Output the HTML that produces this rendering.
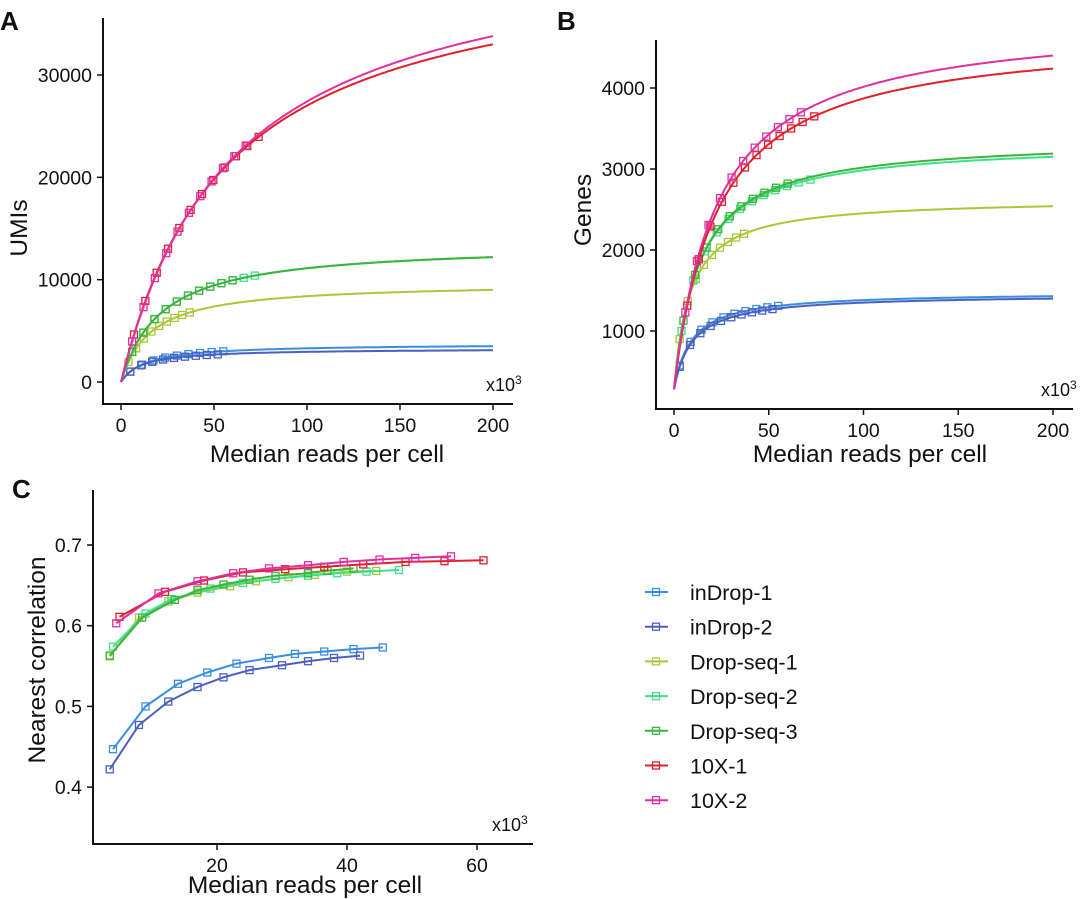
<!DOCTYPE html>
<html><head><meta charset="utf-8"><style>
html,body{margin:0;padding:0;background:#fff;width:1080px;height:899px;overflow:hidden}
svg{display:block}
text{font-family:"Liberation Sans",Arial,sans-serif;fill:#111}
</style></head><body>
<svg id="s" width="1080" height="899" xmlns="http://www.w3.org/2000/svg"></svg>
<script>
const S=document.getElementById('s');let h='';
const C={i1:'#3a8ee0',i2:'#4a5fc0',d1:'#a8c83a',d2:'#3ee08a',d3:'#3cb43c',x1:'#e0202a',x2:'#e030a0'};
function T(x,y,t,sz,anc,ex){h+=`<text x="${x}" y="${y}" font-size="${sz}" text-anchor="${anc||'middle'}" ${ex||''}>${t}</text>`;}
function L(x1,y1,x2,y2,w){h+=`<line x1="${x1}" y1="${y1}" x2="${x2}" y2="${y2}" stroke="#111" stroke-width="${w||2}"/>`;}
function sq(x,y,c){h+=`<rect x="${x-3.5}" y="${y-3.5}" width="7" height="7" fill="none" stroke="${c}" stroke-width="1.3"/>`;}
function panel(X,Y,series,c0){
 for(const s of series){let p='';for(let x=0;x<=200;x+=1){const v=c0+s.a*x/(s.b+x);p+=(x?'L':'M')+X(x).toFixed(1)+','+Y(v).toFixed(1);}
 h+=`<path d="${p}" fill="none" stroke="${s.c}" stroke-width="2"/>`;
 for(let x=s.s;x<=s.e+0.1;x+=(s.e-s.s)/(s.n-1)){sq(X(x),Y(c0+s.a*x/(s.b+x)),s.c);}}
}
const TS=19.5, AS=24.5;
// Panel A
{const X=x=>121+x*1.86,Y=v=>382-v*0.010233;
 L(103,18,103,405);L(102,404,513,404);
 [0,50,100,150,200].forEach(v=>{L(X(v),404,X(v),410,1.5);T(X(v),432,v,TS);});
 [0,10000,20000,30000].forEach(v=>{L(97,Y(v),103,Y(v),1.5);T(92,Y(v)+7,v,TS,'end');});
 panel(X,Y,[
 {a:3736,b:13.5,c:C.i1,s:5,e:55,n:9},{a:3270,b:11,c:C.i2,s:5,e:52,n:9},
 {a:9713,b:15.85,c:C.d1,s:4,e:37,n:9},{a:13518,b:21.6,c:C.d2,s:6,e:72,n:12},{a:13518,b:21.6,c:C.d3,s:6,e:60,n:10},
 {a:42405,b:57,c:C.x1,s:7,e:74,n:12},{a:44075,b:60.8,c:C.x2,s:6,e:67,n:11}],0);
 T(486,391,'x10<tspan font-size="12" dy="-7">3</tspan>',18,'start');
 T(327,462,'Median reads per cell',AS);
 T(27,228,'UMIs',AS,'middle','transform="rotate(-90 27 228)"');
 T(0,30,'A',26,'start','font-weight="bold"');}
// Panel B
{const X=x=>674+x*1.895,Y=v=>331-(v-1000)*0.081;
 L(656,40,656,410);L(655,409,1073,409);
 [0,50,100,150,200].forEach(v=>{L(X(v),409,X(v),415,1.5);T(X(v),437,v,TS);});
 [1000,2000,3000,4000].forEach(v=>{L(650,Y(v),656,Y(v),1.5);T(645,Y(v)+7,v,TS,'end');});
 panel(X,Y,[
 {a:1203,b:9.25,c:C.i1,s:3,e:55,n:10},{a:1174,b:9.66,c:C.i2,s:3,e:52,n:10},
 {a:2355,b:8.4,c:C.d1,s:3,e:37,n:9},{a:3057,b:13,c:C.d2,s:4,e:72,n:12},{a:3103,b:13.3,c:C.d3,s:5,e:60,n:10},
 {a:4413,b:22.9,c:C.x1,s:7,e:74,n:12},{a:4594,b:23,c:C.x2,s:6,e:67,n:11}],280);
 T(1041,396,'x10<tspan font-size="12" dy="-7">3</tspan>',18,'start');
 T(870,462,'Median reads per cell',AS);
 T(591,210,'Genes',AS,'middle','transform="rotate(-90 591 210)"');
 T(557,30,'B',26,'start','font-weight="bold"');}
// Panel C
{const X=x=>87+x*6.5,Y=v=>545-(v-0.7)*807;
 L(93,490,93,845);L(92,844,533,844);
 [20,40,60].forEach(v=>{L(X(v),844,X(v),850,1.5);T(X(v),872,v,TS);});
 [0.4,0.5,0.6,0.7].forEach(v=>{L(87,Y(v),93,Y(v),1.5);T(82,Y(v)+7,v.toFixed(1),TS,'end');});
 const D={
 i1:[[4,.447],[9,.5],[14,.528],[18.5,.542],[23,.553],[28,.56],[32,.565],[36.5,.568],[41,.571],[45.5,.573]],
 i2:[[3.5,.422],[8,.477],[12.5,.506],[17,.524],[21,.536],[25,.545],[30,.551],[34,.556],[38,.56],[42,.563]],
 d1:[[3.5,.562],[8,.61],[12.5,.63],[17,.641],[22,.649],[26,.655],[31,.66],[35,.663],[40,.667],[44.5,.668]],
 d2:[[4,.574],[9,.615],[13,.633],[19,.646],[24,.653],[29,.658],[34,.662],[38.5,.665],[43,.667],[48,.669]],
 d3:[[3.5,.563],[8.5,.61],[13.5,.632],[17,.644],[21,.651],[25,.657],[29,.662],[34,.665],[37,.668],[41,.671]],
 x1:[[5,.611],[12,.642],[18,.656],[24,.666],[30.5,.67],[36.5,.673],[42.5,.676],[49,.679],[55,.68],[61,.681]],
 x2:[[4.5,.603],[11,.64],[17,.655],[22.5,.665],[28,.671],[34,.675],[39.5,.679],[45,.682],[50.5,.684],[56,.686]]};
 for(const k in D){const p=D[k].map((q,i)=>(i?'L':'M')+X(q[0]).toFixed(1)+','+Y(q[1]).toFixed(1)).join('');
  h+=`<path d="${p}" fill="none" stroke="${C[k]}" stroke-width="2"/>`;D[k].forEach(q=>sq(X(q[0]),Y(q[1]),C[k]));}
 T(492,831,'x10<tspan font-size="12" dy="-7">3</tspan>',18,'start');
 T(305,893,'Median reads per cell',AS);
 T(45,660,'Nearest correlation',AS,'middle','transform="rotate(-90 45 660)"');
 T(12,498,'C',26,'start','font-weight="bold"');
 const names=[['i1','inDrop-1'],['i2','inDrop-2'],['d1','Drop-seq-1'],['d2','Drop-seq-2'],['d3','Drop-seq-3'],['x1','10X-1'],['x2','10X-2']];
 names.forEach((n,i)=>{const y=592+i*34.7;h+=`<line x1="645" y1="${y}" x2="668" y2="${y}" stroke="${C[n[0]]}" stroke-width="2"/>`;sq(656,y,C[n[0]]);T(690,y+8,n[1],21.5,'start');});}
S.innerHTML=h;
</script>
</body></html>
